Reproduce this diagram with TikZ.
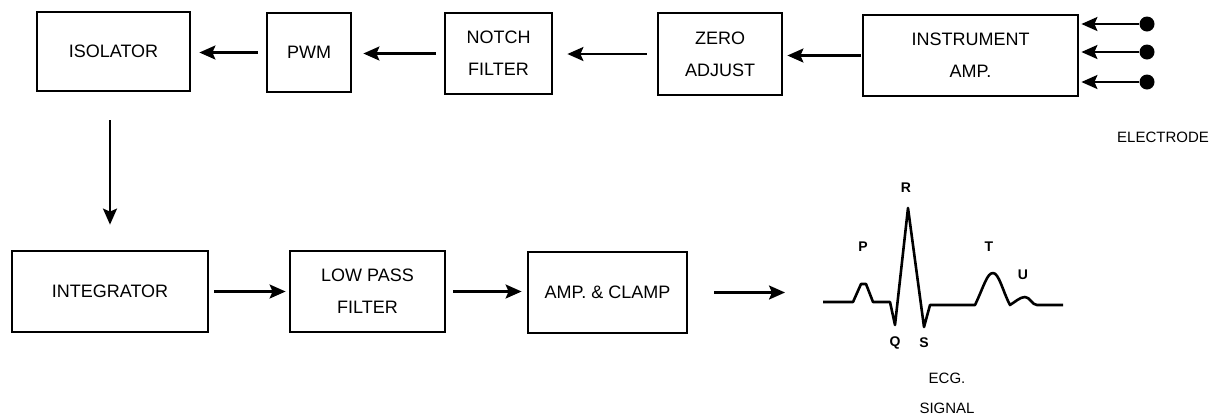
\documentclass[tikz,border=0pt]{standalone}
\usepackage{fontspec}
\setmainfont{Liberation Sans}
\usetikzlibrary{arrows.meta}
\tikzset{
  block/.style={draw,line width=1.4pt,align=center,inner sep=0pt,font=\fontsize{9}{16}\selectfont},
  link/.style={line width=1.1pt,-{Stealth[length=8pt,width=7pt,inset=1.5pt]}},
  electrode/.style={circle,fill,inner sep=0pt,minimum size=7.5pt},
  lbl/.style={font=\fontsize{7.5}{15}\selectfont,align=center},
  peak/.style={font=\fontsize{7}{8}\selectfont\bfseries},
  wave/.style={line width=1.3pt,line join=round},
}
\begin{document}
\begin{tikzpicture}[x=0.5pt,y=-0.5pt]
\useasboundingbox (0,0) rectangle (1209,419);
% upper chain, signal goes right to left
\node[block,minimum width=76.5pt,minimum height=39.5pt] (isolator) at (113.5,51.5) {ISOLATOR};
\node[block,minimum width=42pt,minimum height=39.5pt] (pwm) at (309,52.5) {PWM};
\node[block,minimum width=53.5pt,minimum height=40.5pt] (notch) at (498.5,53.5) {NOTCH\\FILTER};
\node[block,minimum width=62pt,minimum height=41pt] (zero) at (720,54) {ZERO\\ADJUST};
\node[block,minimum width=107.5pt,minimum height=40.5pt] (inamp) at (970.5,55.5) {INSTRUMENT\\AMP.};
% lower chain
\node[block,minimum width=98pt,minimum height=40.5pt] (integrator) at (110,291.5) {INTEGRATOR};
\node[block,minimum width=77.5pt,minimum height=40.5pt] (lpf) at (367.5,291.5) {LOW PASS\\FILTER};
\node[block,minimum width=79.5pt,minimum height=40.5pt] (clamp) at (607.5,292.5) {AMP. \& CLAMP};

\draw[link,shorten <=0.5pt,shorten >=2pt] (inamp.west) -- (inamp.west -| zero.east);
\draw[link,shorten <=5pt,shorten >=7pt] (zero.west) -- (zero.west -| notch.east);
\draw[link,shorten <=4pt,shorten >=5.5pt] (notch.west) -- (notch.west -| pwm.east);
\draw[link,shorten <=4pt,shorten >=4pt] (pwm.west) -- (pwm.west -| isolator.east);
\draw[link,shorten <=14pt,shorten >=12.5pt] (isolator.south -| integrator.north) -- (integrator.north);
\draw[link,shorten <=2.5pt,shorten >=1.5pt] (integrator.east) -- (integrator.east -| lpf.west);
\draw[link,shorten <=3.5pt,shorten >=2.5pt] (lpf.east) -- (lpf.east -| clamp.west);

% electrodes
\node[electrode] (e1) at (1147,24) {};
\node[electrode] (e2) at (1147,52) {};
\node[electrode] (e3) at (1147,82) {};
\foreach \e in {e1,e2,e3}
  \draw[link,shorten >=1pt] (\e) -- (\e -| inamp.east);
\node[lbl] (electrodes) at (1163,137) {ELECTRODE};

% output trace
\coordinate (ecgin) at (785,292);
\draw[link,shorten <=13pt] (clamp.east) -- (clamp.east -| ecgin);
\draw[wave] (823,302) -- (853,302) -- (861,284) -- (866,284) -- (873,302) -- (890,302)
  -- (895,325) -- (908,208) -- (924,327) -- (930,305) -- (975,305)
  .. controls (984,286) and (987,273) .. (993,273)
  .. controls (999,273) and (1003,292) .. (1010,305)
  .. controls (1015,302) and (1020,297) .. (1025,297)
  .. controls (1030,297) and (1032,305) .. (1037,305) -- (1063,305);
\node[peak] (p) at (863,247) {P};
\node[peak] (r) at (906,188) {R};
\node[peak] (t) at (989,247) {T};
\node[peak] (u) at (1023,275) {U};
\node[peak] (q) at (895,343) {Q};
\node[peak] (s) at (924,343) {S};
\node[lbl] (ecg) at (947,378) {ECG.};
\node[lbl] (signal) at (947,408) {SIGNAL};
\end{tikzpicture}
\end{document}
